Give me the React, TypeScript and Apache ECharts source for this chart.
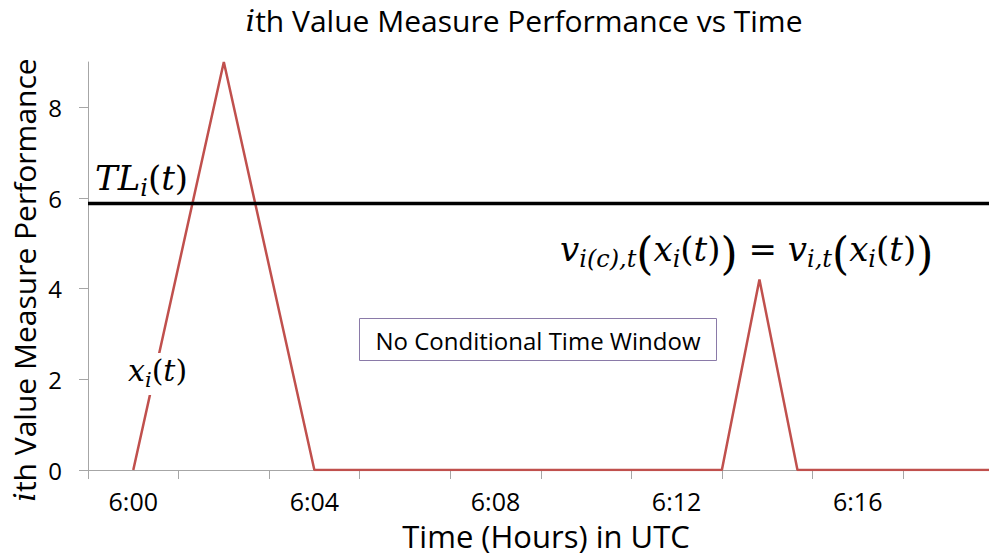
import React, { useEffect, useRef } from "react";
import * as echarts from "echarts";

// ---- data ----
const xLabelMinutes = [0, 4, 8, 12, 16];
const xTickLabels = ["6:00", "6:04", "6:08", "6:12", "6:16"];
const xTickMinutes = [-1, 1, 3, 5, 7, 9, 11, 13, 15, 17];
const yTickValues = [0, 2, 4, 6, 8];
const perfMinutes = [0, 2, 4, 13, 13.83, 14.67, 18.9];
const perfValues = [0, 9, 0, 0, 4.2, 0, 0];
const thresholdMinutes = [-1, 18.9];
const thresholdValues = [5.88, 5.88];

const SANS = "'Open Sans', sans-serif";
const SERIF = "'DejaVu Serif', serif";
const MATH_COLOR = "#1a1a1a";

function mathRich(size: number, sub: number, big: number) {
  const L = Math.round(size * 1.25);
  const subPad = Math.round(0.85 * (size - sub) + size * 0.2);
  const bigPad = Math.max(0, Math.round(0.85 * (size - big) + size * 0.22));
  return {
    m: { fontFamily: SERIF, fontStyle: "italic", fontSize: size, lineHeight: L, verticalAlign: "top", color: MATH_COLOR },
    u: { fontFamily: SERIF, fontStyle: "normal", fontSize: size, lineHeight: L, verticalAlign: "top", color: MATH_COLOR },
    s: { fontFamily: SERIF, fontStyle: "italic", fontSize: sub, lineHeight: 4, verticalAlign: "top", padding: [subPad, 0, 0, 0], color: MATH_COLOR },
    b: { fontFamily: SERIF, fontStyle: "normal", fontSize: big, lineHeight: 4, verticalAlign: "top", padding: [bigPad, 0, 0, 0], color: MATH_COLOR },
  };
}

export default function App() {
  const ref = useRef<HTMLDivElement>(null);
  useEffect(() => {
    const chart = echarts.init(ref.current!, null, { renderer: "svg" });
    const option: any = {
      animation: false,
      backgroundColor: "#ffffff",
      grid: { left: 88, right: 0, top: 62, bottom: 88 },
      xAxis: {
        type: "value",
        min: -1,
        max: 18.9,
        axisLine: { show: true, onZero: false, lineStyle: { color: "#a6a6a6", width: 1 } },
        axisTick: { show: true, customValues: xTickMinutes, length: 9, lineStyle: { color: "#a6a6a6" } },
        axisLabel: {
          customValues: xLabelMinutes,
          formatter: (v: number) => xTickLabels[xLabelMinutes.indexOf(Math.round(v))] ?? "",
          fontSize: 25,
          fontFamily: SANS,
          color: "#000",
          margin: 18,
        },
        splitLine: { show: false },
      },
      yAxis: {
        type: "value",
        min: 0,
        max: 9,
        axisLine: { show: true, onZero: false, lineStyle: { color: "#a6a6a6", width: 1 } },
        axisTick: { show: true, customValues: yTickValues, length: 9, lineStyle: { color: "#a6a6a6" } },
        axisLabel: { customValues: yTickValues, fontSize: 24, fontFamily: SANS, color: "#000", margin: 26 },
        splitLine: { show: false },
      },
      series: [
        {
          type: "line",
          symbol: "none",
          lineStyle: { color: "#c0504d", width: 2.5 },
          data: perfMinutes.map((t, i) => [t, perfValues[i]]),
          z: 2,
        },
        {
          type: "line",
          symbol: "none",
          lineStyle: { color: "#000000", width: 3.5 },
          data: thresholdMinutes.map((t, i) => [t, thresholdValues[i]]),
          z: 3,
        },
      ],
      graphic: [
        {
          type: "text",
          x: 524,
          y: 20,
          style: {
            text: "{it|i}th Value Measure Performance vs Time",
            fontFamily: SANS,
            fontSize: 30,
            fill: "#000",
            align: "center",
            verticalAlign: "middle",
            rich: { it: { fontFamily: SERIF, fontStyle: "italic", fontSize: 30, color: "#000" } },
          },
        },
        {
          type: "text",
          x: 24,
          y: 280,
          rotation: Math.PI / 2,
          style: {
            text: "{it|i}th Value Measure Performance",
            fontFamily: SANS,
            fontSize: 30,
            fill: "#000",
            align: "center",
            verticalAlign: "middle",
            rich: { it: { fontFamily: SERIF, fontStyle: "italic", fontSize: 30, color: "#000" } },
          },
        },
        {
          type: "text",
          x: 546,
          y: 536,
          style: {
            text: "Time (Hours) in UTC",
            fontFamily: SANS,
            fontSize: 31,
            fill: "#000",
            align: "center",
            verticalAlign: "middle",
          },
        },
        {
          type: "rect",
          shape: { x: 359.5, y: 318.5, width: 357, height: 42 },
          style: { fill: "#ffffff", stroke: "#8a7aa8", lineWidth: 1 },
          z: 10,
        },
        {
          type: "text",
          x: 538,
          y: 340,
          z: 11,
          style: {
            text: "No Conditional Time Window",
            fontFamily: SANS,
            fontSize: 24,
            fill: "#000",
            align: "center",
            verticalAlign: "middle",
          },
        },
        {
          type: "text",
          x: 95,
          y: 182,
          z: 11,
          style: {
            text: "{m|TL}{s|i}{u|(}{m|t}{u|)}",
            align: "left",
            verticalAlign: "middle",
            rich: mathRich(34, 24, 34),
          },
        },
        {
          type: "text",
          x: 560,
          y: 253,
          z: 11,
          style: {
            text: "{m|v}{s|i(c),t}{b|(}{m|x}{s|i}{u|(}{m|t}{u|)}{b|)}{u| = }{m|v}{s|i,t}{b|(}{m|x}{s|i}{u|(}{m|t}{u|)}{b|)}",
            align: "left",
            verticalAlign: "middle",
            backgroundColor: "#ffffff",
            rich: mathRich(34, 24, 44),
          },
        },
        {
          type: "text",
          x: 126,
          y: 374,
          z: 11,
          style: {
            text: "{m|x}{s|i}{u|(}{m|t}{u|)}",
            align: "left",
            verticalAlign: "middle",
            backgroundColor: "#ffffff",
            padding: [2, 2, 2, 2],
            rich: mathRich(30, 21, 30),
          },
        },
      ],
    };
    chart.setOption(option);
    return () => chart.dispose();
  }, []);
  return <div ref={ref} style={{ position: "fixed", left: 0, top: 0, width: 989, height: 558 }} />;
}
